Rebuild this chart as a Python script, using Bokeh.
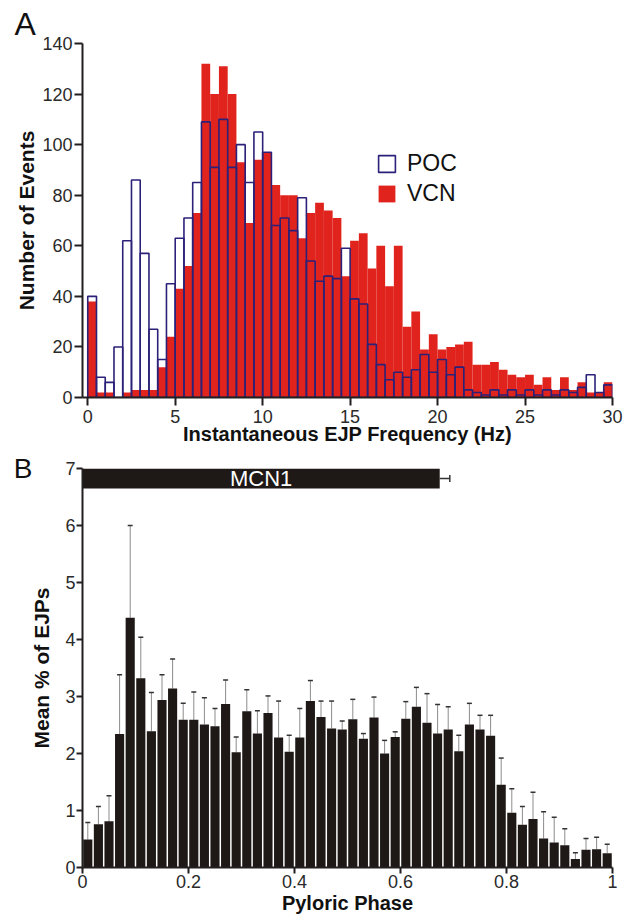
import numpy as np
from bokeh.plotting import figure
from bokeh.models import (Range1d, FixedTicker, Legend, LegendItem, Whisker, TeeHead,
                          ColumnDataSource, CustomJSTickFormatter, LinearAxis)
from bokeh.core.properties import value
from bokeh.layouts import column
from bokeh.embed import file_html
from bokeh.resources import INLINE

# ---------------- data ----------------
# Panel A: histogram of instantaneous EJP frequency, 0.5 Hz bins from 0 to 30 Hz
bin_width_hz = 0.5
poc_counts = [40, 8, 6, 20, 62, 86, 57, 27, 15, 45,
              63, 71, 85, 109, 91, 110, 91, 100, 85, 105,
              97, 68, 71, 66, 79, 54, 46, 48, 47, 59,
              39, 37, 21, 13, 7, 10, 8, 11, 17, 10,
              15, 9, 12, 3, 2, 1, 3, 1, 3, 1,
              3, 1, 3, 1, 3, 2, 4, 9, 2, 5]
vcn_counts = [38, 2, 2, 0, 2, 3, 3, 3, 12, 24,
              43, 52, 73, 132, 120, 131, 120, 93, 69, 94,
              97, 84, 80, 80, 63, 73, 77, 74, 71, 48,
              62, 65, 51, 60, 44, 60, 28, 34, 19, 25,
              19, 20, 21, 22, 13, 13, 14, 11, 9, 8,
              9, 5, 8, 3, 8, 3, 6, 2, 2, 6]
freq_ticks = [0, 5, 10, 15, 20, 25, 30]
count_ticks = [0, 20, 40, 60, 80, 100, 120, 140]

# Panel B: mean % of EJPs per pyloric phase bin (50 bins), with SEM
phase_bin_width = 0.02
mean_pct = [0.49, 0.76, 0.81, 2.34, 4.38, 3.32, 2.39, 2.94, 3.14, 2.59,
            2.59, 2.51, 2.48, 2.87, 2.02, 2.74, 2.35, 2.71, 2.28, 2.03,
            2.28, 2.92, 2.64, 2.44, 2.42, 2.60, 2.26, 2.63, 2.00, 2.29,
            2.61, 2.82, 2.54, 2.35, 2.42, 2.04, 2.51, 2.42, 2.31, 1.45,
            0.96, 0.75, 0.85, 0.51, 0.44, 0.39, 0.15, 0.31, 0.32, 0.25]
sem_pct = [0.30, 0.31, 0.45, 1.04, 1.62, 0.72, 0.68, 0.44, 0.52, 0.29,
           0.49, 0.47, 0.31, 0.42, 0.27, 0.38, 0.40, 0.30, 0.64, 0.29,
           0.51, 0.36, 0.28, 0.48, 0.15, 0.35, 0.09, 0.36, 0.23, 0.09,
           0.30, 0.34, 0.51, 0.51, 0.40, 0.28, 0.37, 0.25, 0.36, 0.47,
           0.42, 0.32, 0.47, 0.47, 0.44, 0.29, 0.11, 0.20, 0.21, 0.16]
phase_ticks = [0, 0.2, 0.4, 0.6, 0.8, 1]
pct_ticks = [0, 1, 2, 3, 4, 5, 6, 7]
# MCN1 activity bar (phase onset, offset, SEM of offset)
mcn1_name = ["MCN1"]
mcn1_on = [0.0]
mcn1_off = [0.674]
mcn1_off_sem = [0.019]
mcn1_level = [6.825]

FONT = "Liberation Sans"
INK = "#231f20"
RED = "#e0231c"
NAVY = "#2b2178"
BAR = "#1e1816"


def style_axes(p, tick_px, xlab_px, ylab_px, tick_out, tick_standoff, xlab_standoff, ylab_standoff):
    for ax in p.axis:
        ax.axis_line_color = INK
        ax.axis_line_width = 2
        ax.major_tick_line_color = INK
        ax.major_tick_line_width = 2
        ax.major_tick_out = tick_out
        ax.major_tick_in = 0
        ax.minor_tick_line_color = None
        ax.major_label_text_font = FONT
        ax.major_label_text_font_size = tick_px
        ax.major_label_text_color = "#2a2a2a"
        ax.major_label_standoff = tick_standoff
        ax.axis_label_text_font = FONT
        ax.axis_label_text_font_style = "bold"
        ax.axis_label_text_color = "#111111"
    p.xaxis.axis_label_text_font_size = xlab_px
    p.yaxis.axis_label_text_font_size = ylab_px
    p.xaxis.axis_label_standoff = xlab_standoff
    p.yaxis.axis_label_standoff = ylab_standoff
    p.xgrid.grid_line_color = None
    p.ygrid.grid_line_color = None
    p.outline_line_color = None
    p.background_fill_color = "white"
    p.border_fill_color = "white"


# ---------------- Panel A ----------------
pA = figure(width=632, height=452, x_range=Range1d(-0.3, 30), y_range=Range1d(0, 140),
            output_backend="svg", toolbar_location=None,
            min_border_left=80, min_border_right=12, min_border_top=43, min_border_bottom=55)

edges = np.arange(len(vcn_counts) + 1) * bin_width_hz
srcA = ColumnDataSource(dict(left=edges[:-1], right=edges[1:], poc=poc_counts, vcn=vcn_counts))
r_vcn = pA.quad(left="left", right="right", bottom=0, top="vcn", source=srcA,
                fill_color=RED, line_color=None)
r_poc = pA.quad(left="left", right="right", bottom=0, top="poc", source=srcA,
                fill_alpha=0, line_color=NAVY, line_width=1.6)

pA.xaxis.ticker = FixedTicker(ticks=freq_ticks)
pA.yaxis.ticker = FixedTicker(ticks=count_ticks)
pA.xaxis.axis_label = "Instantaneous EJP Frequency (Hz)"
pA.yaxis.axis_label = "Number of Events"
style_axes(pA, "18px", "20px", "21px", 8, 4, -3, 1)
pA.yaxis.major_tick_out = 8
pA.yaxis.major_label_standoff = 2

legend = Legend(items=[LegendItem(label="POC", renderers=[r_poc]),
                       LegendItem(label="VCN", renderers=[r_vcn])],
                location=(294, 190), padding=0, margin=0, spacing=3,
                glyph_width=21, glyph_height=21, label_height=21, label_standoff=10,
                label_text_font=FONT, label_text_font_size="23px", label_text_color="#111111",
                border_line_color=None, background_fill_alpha=0)
pA.add_layout(legend)

pA.title.text = "A"
pA.title.text_font = FONT
pA.title.text_font_size = "32px"
pA.title.text_font_style = "normal"
pA.title.text_color = "#111111"
pA.title.align = "left"
pA.title.offset = -68
pA.title.standoff = 4

# ---------------- Panel B ----------------
pB = figure(width=632, height=467, x_range=Range1d(0, 1), y_range=Range1d(0, 7),
            output_backend="svg", toolbar_location=None,
            min_border_left=82, min_border_right=20, min_border_top=16, min_border_bottom=52)

centers = (np.arange(len(mean_pct)) + 0.5) * phase_bin_width
upper = np.array(mean_pct) + np.array(sem_pct)
srcB = ColumnDataSource(dict(x=centers, top=mean_pct, upper=upper))
pB.vbar(x="x", top="top", width=phase_bin_width * 0.86, bottom=0, source=srcB,
        fill_color=BAR, line_color=None)
pB.add_layout(Whisker(source=srcB, base="x", lower="top", upper="upper", dimension="height",
                      line_color="#8c8c8c", line_width=1,
                      upper_head=TeeHead(size=5, line_color="#333333", line_width=1.5),
                      lower_head=None))

srcM = ColumnDataSource(dict(name=mcn1_name, y=mcn1_level, left=mcn1_on, right=mcn1_off,
                             err=np.array(mcn1_off) + np.array(mcn1_off_sem),
                             mid=(np.array(mcn1_on) + np.array(mcn1_off)) / 2))
pB.hbar(y="y", left="left", right="right", height=0.35, source=srcM,
        fill_color=BAR, line_color=None)
pB.add_layout(Whisker(source=srcM, base="y", lower="right", upper="err", dimension="width",
                      line_color="#333333", line_width=1.5,
                      upper_head=TeeHead(size=7, line_color="#333333", line_width=1.5),
                      lower_head=None))
pB.text(x="mid", y="y", text="name", source=srcM, text_color="white",
        text_font_size="22px", text_align="center", text_baseline="middle",
        text_font=value(FONT))

pB.xaxis.ticker = FixedTicker(ticks=phase_ticks)
pB.xaxis.formatter = CustomJSTickFormatter(code="return String(tick);")
pB.yaxis.ticker = FixedTicker(ticks=pct_ticks)
pB.xaxis.axis_label = "Pyloric Phase"
pB.yaxis.axis_label = "Mean % of EJPs"
style_axes(pB, "18px", "20px", "21px", 6, 1, 1, 9)

# panel letter "B" drawn as the label of an outer, line-less axis
letterB = LinearAxis(ticker=FixedTicker(ticks=[7]),
                     formatter=CustomJSTickFormatter(code="return 'B';"),
                     axis_line_color=None, major_tick_line_color=None,
                     minor_tick_line_color=None, major_tick_out=0, major_tick_in=0,
                     major_label_standoff=-5, major_label_text_font=FONT,
                     major_label_text_font_size="28px", major_label_text_color="#111111")
pB.add_layout(letterB, "left")

layout = column(pA, pB)
open("out.html", "w").write(file_html(layout, INLINE))
